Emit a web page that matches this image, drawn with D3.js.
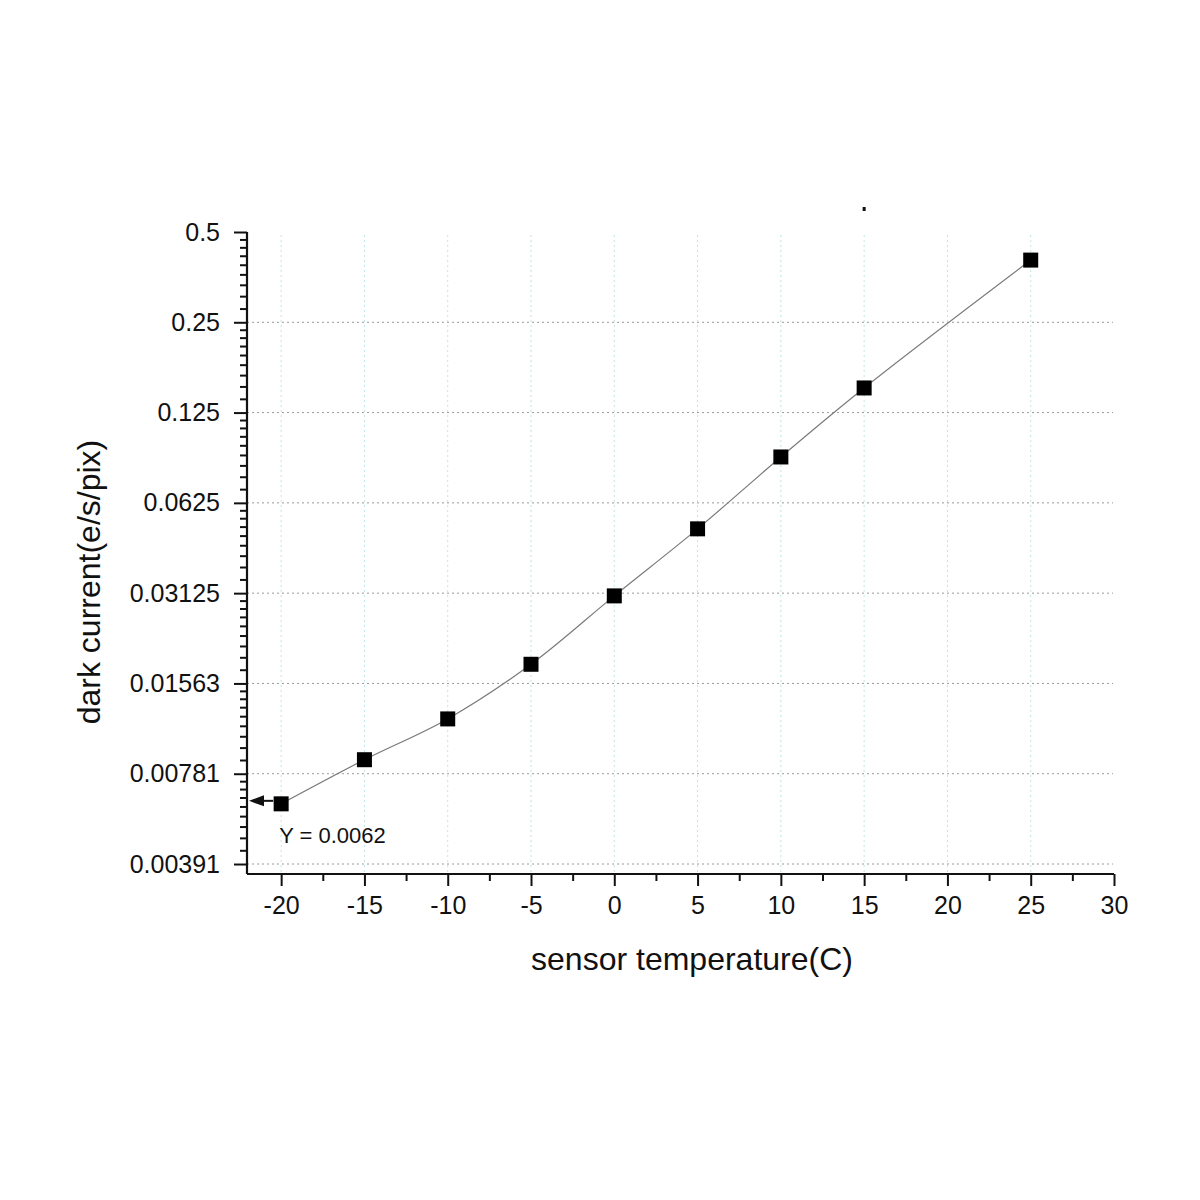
<!DOCTYPE html>
<html>
<head>
<meta charset="utf-8">
<script src="https://cdn.jsdelivr.net/npm/d3@7"></script>
<style>
  html, body { margin: 0; padding: 0; background: #fff; }
  svg { display: block; }
  text { font-family: "Liberation Sans", Arial, sans-serif; fill: #111; }
</style>
</head>
<body>
<svg id="chart" width="1200" height="1200"></svg>
<script>
// ---- data ----
const temperatures = [-20, -15, -10, -5, 0, 5, 10, 15, 25];
const darkCurrent = [0.0062, 0.0087, 0.0119, 0.0181, 0.0306, 0.0512, 0.0889, 0.151, 0.403];
const xTickValues = [-20, -15, -10, -5, 0, 5, 10, 15, 20, 25, 30];
const yTickValues = [0.5, 0.25, 0.125, 0.0625, 0.03125, 0.015625, 0.0078125, 0.00390625];
const yTickLabels = ["0.5", "0.25", "0.125", "0.0625", "0.03125", "0.01563", "0.00781", "0.00391"];
const xTitle = "sensor temperature(C)";
const yTitle = "dark current(e/s/pix)";
const annotation = "Y = 0.0062";
const annotatedValue = 0.0062;

// ---- layout ----
const svg = d3.select("#chart");
const pLeft = 247, pRight = 1114, pTop = 232, pBottom = 874;

const x = d3.scaleLinear().domain([-22.05, 30]).range([pLeft, pRight]);
const y = d3.scaleLog().base(2).domain([0.003618, 0.5]).range([pBottom, pTop]);

// gridlines
const grid = svg.append("g");
grid.selectAll("line.hg").data(yTickValues.slice(1)).join("line")
  .attr("x1", pLeft).attr("x2", 1113)
  .attr("y1", d => y(d)).attr("y2", d => y(d))
  .attr("stroke", "#9a9a9a").attr("stroke-width", 1)
  .attr("stroke-dasharray", "2,3");
grid.selectAll("line.vg").data(xTickValues.filter(v => v < 30)).join("line")
  .attr("x1", d => x(d)).attr("x2", d => x(d))
  .attr("y1", 235).attr("y2", pBottom)
  .attr("stroke", "#bfe6e6").attr("stroke-width", 1)
  .attr("stroke-dasharray", "2,3");

// minor tick values
const yMinor = [];
for (let i = 1; i < yTickValues.length; i++) {
  const lo = yTickValues[i], hi = yTickValues[i - 1];
  for (let k = 1; k <= 8; k++) yMinor.push(lo + k * (hi - lo) / 9);
}
const xMinor = xTickValues.slice(0, -1).map(v => v + 2.5);

// x axis
const xAxis = d3.axisBottom(x).tickValues(xTickValues).tickFormat(d => String(d))
  .tickSize(12).tickPadding(10);
const gx = svg.append("g").attr("transform", `translate(0,${pBottom})`).call(xAxis);
gx.select(".domain").attr("stroke", "#111").attr("stroke-width", 2.2).attr("d", `M${pLeft},0H${pRight}`);
gx.selectAll(".tick line").attr("stroke", "#111").attr("stroke-width", 2);
gx.selectAll(".tick text").attr("font-size", 25).attr("font-family", "Liberation Sans, Arial, sans-serif").attr("fill", "#111");
const xMinorAxis = d3.axisBottom(x).tickValues(xMinor).tickFormat("").tickSize(7);
const gxm = svg.append("g").attr("transform", `translate(0,${pBottom})`).call(xMinorAxis);
gxm.select(".domain").remove();
gxm.selectAll(".tick line").attr("stroke", "#111").attr("stroke-width", 2);

// y axis
const yAxis = d3.axisLeft(y).tickValues(yTickValues)
  .tickFormat((d, i) => yTickLabels[i]).tickSize(13).tickPadding(14);
const gy = svg.append("g").attr("transform", `translate(${pLeft},0)`).call(yAxis);
gy.select(".domain").attr("stroke", "#111").attr("stroke-width", 2.2).attr("d", `M0,${pTop}V${pBottom}`);
gy.selectAll(".tick line").attr("stroke", "#111").attr("stroke-width", 2);
gy.selectAll(".tick text").attr("font-size", 25).attr("font-family", "Liberation Sans, Arial, sans-serif").attr("fill", "#111");
const yMinorAxis = d3.axisLeft(y).tickValues(yMinor).tickFormat("").tickSize(7);
const gym = svg.append("g").attr("transform", `translate(${pLeft},0)`).call(yMinorAxis);
gym.select(".domain").remove();
gym.selectAll(".tick line").attr("stroke", "#111").attr("stroke-width", 2);

// curve
const pts = temperatures.map((t, i) => [t, darkCurrent[i]]);
const line = d3.line().x(d => x(d[0])).y(d => y(d[1])).curve(d3.curveCatmullRom.alpha(0.5));
svg.append("path").datum(pts).attr("d", line)
  .attr("fill", "none").attr("stroke", "#7a7a7a").attr("stroke-width", 1.2);

// markers
const ms = 15;
svg.selectAll("rect.pt").data(pts).join("rect")
  .attr("x", d => x(d[0]) - ms / 2).attr("y", d => y(d[1]) - ms / 2)
  .attr("width", ms).attr("height", ms).attr("fill", "#000");

// annotation arrow
const ay = y(annotatedValue) - 3;
svg.append("line").attr("x1", x(-20) - 8).attr("x2", pLeft + 12)
  .attr("y1", ay).attr("y2", ay).attr("stroke", "#111").attr("stroke-width", 2);
svg.append("path")
  .attr("d", `M${pLeft + 2},${ay} L${pLeft + 17},${ay - 5.5} L${pLeft + 17},${ay + 5.5} Z`)
  .attr("fill", "#111");
svg.append("text").attr("x", x(-20) - 2).attr("y", 843)
  .attr("font-size", 22).text(annotation);

// stray mark at top
svg.append("rect").attr("x", x(15) - 1.5).attr("y", 207).attr("width", 3).attr("height", 4).attr("fill", "#111");

// titles
svg.append("text").attr("x", 692).attr("y", 970).attr("text-anchor", "middle")
  .attr("font-size", 32).text(xTitle);
svg.append("text").attr("transform", "translate(100,582) rotate(-90)")
  .attr("text-anchor", "middle").attr("font-size", 32).text(yTitle);
</script>
</body>
</html>
